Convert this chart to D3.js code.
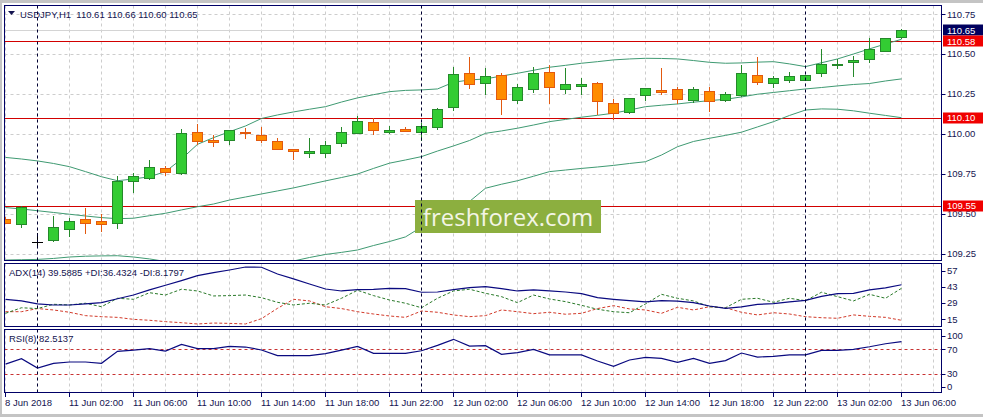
<!DOCTYPE html>
<html><head><meta charset="utf-8">
<script src="https://cdn.jsdelivr.net/npm/d3@7"></script>
<style>
body{margin:0;background:#fff}
svg{display:block}
text{font-family:"Liberation Sans",Arial,sans-serif}
</style>
</head><body>
<svg id="c" width="983" height="417"></svg>
<script>
// ---------- DATA ----------
const barTimes = [
 "8 Jun 22:00","8 Jun 23:00",
 "11 Jun 00:00","11 Jun 01:00","11 Jun 02:00","11 Jun 03:00","11 Jun 04:00","11 Jun 05:00","11 Jun 06:00","11 Jun 07:00",
 "11 Jun 08:00","11 Jun 09:00","11 Jun 10:00","11 Jun 11:00","11 Jun 12:00","11 Jun 13:00","11 Jun 14:00","11 Jun 15:00",
 "11 Jun 16:00","11 Jun 17:00","11 Jun 18:00","11 Jun 19:00","11 Jun 20:00","11 Jun 21:00","11 Jun 22:00","11 Jun 23:00",
 "12 Jun 00:00","12 Jun 01:00","12 Jun 02:00","12 Jun 03:00","12 Jun 04:00","12 Jun 05:00","12 Jun 06:00","12 Jun 07:00",
 "12 Jun 08:00","12 Jun 09:00","12 Jun 10:00","12 Jun 11:00","12 Jun 12:00","12 Jun 13:00","12 Jun 14:00","12 Jun 15:00",
 "12 Jun 16:00","12 Jun 17:00","12 Jun 18:00","12 Jun 19:00","12 Jun 20:00","12 Jun 21:00","12 Jun 22:00","12 Jun 23:00",
 "13 Jun 00:00","13 Jun 01:00","13 Jun 02:00","13 Jun 03:00","13 Jun 04:00","13 Jun 05:00","13 Jun 06:00"
];
const opens  = [109.466,109.434,109.325,109.334,109.403,109.466,109.453,109.444,109.707,109.722,
                109.787,109.754,110.013,109.962,109.960,110.012,109.992,109.954,109.908,109.881,
                109.879,109.942,110.004,110.073,110.011,110.029,110.011,110.042,110.167,110.384,
                110.318,110.368,110.211,110.280,110.387,110.280,110.299,110.318,110.196,110.140,
                110.242,110.278,110.280,110.211,110.269,110.215,110.242,110.368,110.318,110.336,
                110.336,110.380,110.430,110.449,110.468,110.518,110.610];
const highs  = [109.480,109.549,109.382,109.486,109.472,109.534,109.497,109.735,109.754,109.837,
                109.801,110.029,110.063,109.994,110.025,110.039,110.044,109.975,109.908,109.975,
                109.956,110.042,110.113,110.098,110.050,110.042,110.067,110.160,110.420,110.480,
                110.415,110.384,110.311,110.420,110.430,110.412,110.349,110.328,110.217,110.227,
                110.290,110.412,110.293,110.295,110.295,110.261,110.432,110.482,110.362,110.387,
                110.370,110.531,110.468,110.487,110.600,110.600,110.660];
const lows   = [109.440,109.419,109.294,109.330,109.363,109.382,109.394,109.413,109.638,109.720,
                109.743,109.750,109.939,109.927,109.937,109.977,109.952,109.904,109.842,109.858,
                109.858,109.927,110.004,110.000,110.008,110.017,109.962,110.029,110.149,110.290,
                110.249,110.123,110.196,110.263,110.196,110.259,110.249,110.123,110.092,110.130,
                110.213,110.249,110.196,110.200,110.144,110.209,110.238,110.315,110.296,110.328,
                110.335,110.362,110.412,110.362,110.449,110.518,110.600];
const closes = [109.445,109.541,109.325,109.415,109.453,109.445,109.434,109.704,109.735,109.791,
                109.760,110.006,109.954,109.952,110.023,110.004,109.960,109.904,109.892,109.892,
                109.929,110.011,110.080,110.023,110.023,110.020,110.048,110.159,110.378,110.311,
                110.362,110.217,110.293,110.380,110.293,110.311,110.311,110.209,110.130,110.227,
                110.290,110.265,110.217,110.280,110.209,110.251,110.380,110.328,110.349,110.362,
                110.368,110.437,110.437,110.464,110.531,110.600,110.650];
const bbUpper = [109.853,109.843,109.831,109.815,109.795,109.764,109.732,109.707,109.718,109.732,
                 109.764,109.843,109.935,109.977,110.014,110.050,110.097,110.119,110.138,110.155,
                 110.171,110.200,110.226,110.246,110.265,110.273,110.276,110.282,110.324,110.338,
                 110.345,110.363,110.380,110.399,110.418,110.430,110.443,110.453,110.464,110.470,
                 110.474,110.473,110.470,110.460,110.449,110.443,110.445,110.450,110.453,110.439,
                 110.422,110.446,110.470,110.501,110.533,110.564,110.593];
const bbMiddle = [109.539,109.530,109.519,109.508,109.497,109.486,109.476,109.469,109.472,109.488,
                  109.503,109.524,109.544,109.561,109.586,109.605,109.624,109.643,109.662,109.684,
                  109.706,109.727,109.749,109.784,109.817,109.837,109.858,109.893,109.925,109.959,
                  110.004,110.019,110.036,110.056,110.077,110.091,110.105,110.117,110.130,110.150,
                  110.171,110.180,110.188,110.199,110.209,110.217,110.232,110.249,110.260,110.271,
                  110.282,110.291,110.301,110.310,110.316,110.332,110.345];
const bbLower = [109.210,109.212,109.214,109.220,109.229,109.234,109.236,109.237,109.229,109.217,
                 109.201,109.185,109.173,109.167,109.167,109.173,109.179,109.189,109.204,109.226,
                 109.245,109.258,109.273,109.301,109.326,109.355,109.417,109.467,109.524,109.577,
                 109.660,109.685,109.707,109.735,109.764,109.774,109.784,109.793,109.803,109.815,
                 109.826,109.868,109.920,109.953,109.973,109.991,110.011,110.044,110.077,110.116,
                 110.150,110.157,110.155,110.145,110.130,110.116,110.102];
const adxValues = [32.3,30.9,28.3,27.4,27.4,28.3,29.4,32.8,36.0,40.4,
                   44.4,48.4,52.7,55.3,57.6,60.2,60.0,54.2,49.9,45.5,
                   41.2,39.5,40.6,40.8,41.8,41.5,38.4,38.6,40.6,42.4,
                   43.2,41.5,39.5,40.4,39.5,38.6,37.2,33.7,32.3,31.1,
                   30.0,31.1,30.8,29.4,26.5,24.5,25.7,28.0,28.5,30.0,
                   31.4,34.9,37.2,37.5,40.4,42.1,44.9];
const plusDI = [20.2,25.0,24.3,28.0,27.4,28.9,25.9,33.2,32.3,38.0,
                36.0,41.0,39.5,35.2,35.5,36.0,33.7,29.7,27.4,28.9,
                27.4,33.2,40.1,35.5,31.7,28.9,25.0,33.2,39.5,41.0,
                37.5,34.6,29.4,36.0,32.6,30.3,27.1,23.7,21.6,20.7,
                28.3,36.6,33.2,30.9,25.9,25.0,32.3,33.2,29.7,33.2,
                31.1,38.4,34.6,30.9,36.6,33.2,41.8];
const minusDI = [21.6,21.6,24.3,23.1,21.1,18.2,17.3,16.7,15.0,14.2,
                 13.0,12.1,11.0,11.8,11.5,11.0,15.6,24.5,32.3,30.9,
                 25.9,24.3,21.6,19.6,17.9,16.7,22.2,21.1,18.8,17.3,
                 18.2,23.1,21.6,19.9,21.1,19.4,20.2,24.3,26.8,24.0,
                 23.1,20.2,25.4,23.1,25.9,25.0,21.1,18.8,20.7,19.6,
                 17.3,16.4,15.9,18.8,17.6,16.7,14.2];
const rsiValues = [46.0,54.8,39.7,47.3,49.4,49.4,47.3,66.8,68.6,71.0,
                   67.0,78.0,71.0,71.0,74.8,73.7,68.9,59.7,59.7,59.7,
                   62.9,68.6,74.8,63.4,63.4,63.4,67.7,76.3,86.2,75.3,
                   76.0,61.9,64.6,70.0,60.9,60.9,60.9,51.0,42.4,52.7,
                   57.0,55.3,49.0,55.3,47.3,51.6,64.0,57.5,58.6,60.9,
                   60.9,68.3,68.3,70.0,74.2,79.0,82.5];
const priceTicks = [110.75,110.50,110.25,110.00,109.75,109.50,109.25];
const priceTickLabels = ["110.75","110.50","110.25","110.00","109.75","109.50","109.25"];
const levelValues = [110.58,110.10,109.55];
const levelLabels = ["110.58","110.10","109.55"];
const bidValue = 110.65, bidLabel = "110.65";
const adxTicks = [57,43,29,15];
const rsiTicks = [100,70,30,0];
const rsiLevels = [70,30];
const timeTickIdx = [0,4,8,12,16,20,24,28,32,36,40,44,48,52,56];
const timeTickLabels = ["8 Jun 2018","11 Jun 02:00","11 Jun 06:00","11 Jun 10:00","11 Jun 14:00","11 Jun 18:00","11 Jun 22:00",
  "12 Jun 02:00","12 Jun 06:00","12 Jun 10:00","12 Jun 14:00","12 Jun 18:00","12 Jun 22:00","13 Jun 02:00","13 Jun 06:00"];
const separatorIdx = [2,26,50];
const headerText = "USDJPY,H1  110.61 110.66 110.60 110.65";
const adxLegend = "ADX(14) 39.5885 +DI:36.4324 -DI:8.1797";
const rsiLegend = "RSI(8) 82.5137";
const watermark = "freshforex.com";

// ---------- LAYOUT ----------
const svg = d3.select('#c');
const NAVY = "#000066", TXT = "#141450", RED = "#d20000";
const PL = 4.5, PR = 941.5;
const panels = {
  main: {top: 5.5, bottom: 260.5},
  adx:  {top: 263.5, bottom: 326.5},
  rsi:  {top: 329.5, bottom: 392.5}
};
const x = d3.scaleLinear().domain([0, 56]).range([5.5, 901.5]);
const yP = d3.scaleLinear().domain([109.204, 110.808]).range([261, 5]);
const yA = d3.scaleLinear().domain([8.64, 63.4]).range([326.7, 263.3]);
const yR = d3.scaleLinear().domain([0, 100]).range([392.5, 330.8]);
const px = v => Math.round(v) + 0.5;

// window frame
svg.append('rect').attr('x',0).attr('y',0).attr('width',983).attr('height',417).attr('fill','#fff');
svg.append('rect').attr('x',0).attr('y',0).attr('width',983).attr('height',3).attr('fill','#c4c4c4');
svg.append('rect').attr('x',0).attr('y',414).attr('width',983).attr('height',3).attr('fill','#c4c4c4');
svg.append('rect').attr('x',0).attr('y',0).attr('width',2).attr('height',417).attr('fill','#c4c4c4');

// clip paths
const defs = svg.append('defs');
Object.entries(panels).forEach(([k,p]) => {
  defs.append('clipPath').attr('id','clip-'+k).append('rect')
    .attr('x',PL+0.5).attr('y',p.top+0.5).attr('width',PR-PL-1).attr('height',p.bottom-p.top-1);
});

// vertical grid in all panels
const gridIdx = d3.range(0, 59, 2);
Object.entries(panels).forEach(([k,p]) => {
  const g = svg.append('g').attr('clip-path','url(#clip-'+k+')');
  g.selectAll('line').data(gridIdx).join('line')
    .attr('x1',d=>x(d)).attr('x2',d=>x(d)).attr('y1',p.top).attr('y2',p.bottom)
    .attr('stroke','#cdcdcd').attr('stroke-dasharray','3,3');
});

// main horizontal grid
const mainG = svg.append('g').attr('clip-path','url(#clip-main)');
mainG.selectAll('line.hg').data(priceTicks).join('line').attr('class','hg')
  .attr('x1',PL).attr('x2',PR).attr('y1',d=>px(yP(d))).attr('y2',d=>px(yP(d)))
  .attr('stroke','#cdcdcd').attr('stroke-dasharray','3,3');

// bid line
mainG.append('line').attr('x1',PL).attr('x2',PR).attr('y1',px(yP(bidValue))).attr('y2',px(yP(bidValue)))
  .attr('stroke','#d4d4d4');

// level lines
mainG.selectAll('line.lv').data(levelValues).join('line').attr('class','lv')
  .attr('x1',PL).attr('x2',PR).attr('y1',d=>px(yP(d))).attr('y2',d=>px(yP(d)))
  .attr('stroke',RED).attr('stroke-width',1);

// bollinger bands
const bbLine = arr => d3.line().x((d,i)=>x(i)).y(d=>yP(d))(arr);
[bbUpper, bbMiddle, bbLower].forEach(arr => {
  mainG.append('path').attr('d', bbLine(arr)).attr('fill','none').attr('stroke','#3f9a72').attr('stroke-width',1);
});

// watermark
svg.append('rect').attr('x',415).attr('y',200).attr('width',186).attr('height',33).attr('fill','#8caf3f');
svg.append('text').attr('x',508).attr('y',226).attr('text-anchor','middle')
  .style('font-family','"Open Sans",sans-serif').style('font-size','24px').attr('fill','#f3f5e6')
  .text(watermark);

// candles
const candles = d3.range(opens.length).map(i => ({i, o:opens[i], h:highs[i], l:lows[i], c:closes[i]}));
const cg = mainG.append('g');
candles.forEach(d => {
  const bull = d.c > d.o, bear = d.c < d.o;
  const stroke = bull ? '#24892a' : (bear ? '#e2590f' : '#000000');
  const fill = bull ? '#33cc33' : '#ff8c00';
  const xc = x(d.i);
  cg.append('line').attr('x1',xc).attr('x2',xc).attr('y1',Math.round(yP(d.h))).attr('y2',Math.round(yP(d.l))+1)
    .attr('stroke',stroke);
  const top = Math.round(yP(Math.max(d.o,d.c))), bot = Math.round(yP(Math.min(d.o,d.c)));
  if (bot - top < 1) {
    cg.append('line').attr('x1',xc-5.5).attr('x2',xc+5.5).attr('y1',top+0.5).attr('y2',top+0.5).attr('stroke',stroke);
  } else {
    cg.append('rect').attr('x',xc-5).attr('y',top+0.5).attr('width',10).attr('height',bot-top)
      .attr('fill',fill).attr('stroke',stroke);
  }
});

// ADX panel
const adxG = svg.append('g').attr('clip-path','url(#clip-adx)');
const lineA = d3.line().x((d,i)=>x(i)).y(d=>yA(d));
adxG.append('path').attr('d',lineA(minusDI)).attr('fill','none').attr('stroke','#d23a2a').attr('stroke-dasharray','3,2');
adxG.append('path').attr('d',lineA(plusDI)).attr('fill','none').attr('stroke','#2a7a2a').attr('stroke-dasharray','3,2');
adxG.append('path').attr('d',lineA(adxValues)).attr('fill','none').attr('stroke','#0a0a80').attr('stroke-width',1.2);

// RSI panel
const rsiG = svg.append('g').attr('clip-path','url(#clip-rsi)');
rsiG.selectAll('line.lv').data(rsiLevels).join('line').attr('class','lv')
  .attr('x1',PL).attr('x2',PR).attr('y1',d=>px(yR(d))).attr('y2',d=>px(yR(d)))
  .attr('stroke','#c83232').attr('stroke-dasharray','3,3');
rsiG.append('path').attr('d',d3.line().x((d,i)=>x(i)).y(d=>yR(d))(rsiValues))
  .attr('fill','none').attr('stroke','#0a0a80').attr('stroke-width',1.2);

// period separators
Object.values(panels).forEach(p => {
  svg.selectAll(null).data(separatorIdx).join('line')
    .attr('x1',d=>x(d)).attr('x2',d=>x(d)).attr('y1',p.top).attr('y2',p.bottom)
    .attr('stroke','#000033').attr('stroke-dasharray','3,3');
});

// panel frames
Object.values(panels).forEach(p => {
  svg.append('rect').attr('x',PL).attr('y',p.top).attr('width',PR-PL).attr('height',p.bottom-p.top)
    .attr('fill','none').attr('stroke',NAVY);
});

// right axes
const fs = '9.5px';
const axisTicks = (vals, labels, scale, p) => {
  vals.forEach((v,k) => {
    const yy = scale(v);
    const ly = Math.max(p.top+6, Math.min(p.bottom-6, yy));
    svg.append('line').attr('x1',PR).attr('x2',PR+4).attr('y1',px(ly)).attr('y2',px(ly)).attr('stroke',NAVY);
    svg.append('text').attr('x',947).attr('y',ly).attr('dy','0.35em').style('font-size',fs)
      .attr('fill',TXT).text(labels[k]);
  });
};
axisTicks(priceTicks, priceTickLabels, yP, panels.main);
axisTicks(adxTicks, adxTicks.map(String), d3.scaleLinear().domain([57,15]).range([270.7,319.3]), panels.adx);
axisTicks(rsiTicks, rsiTicks.map(String), yR, panels.rsi);

// price tags
const tag = (v, label, bg) => {
  const yy = yP(v);
  svg.append('rect').attr('x',943).attr('y',Math.round(yy)-5.5).attr('width',40).attr('height',11).attr('fill',bg);
  svg.append('text').attr('x',947).attr('y',yy).attr('dy','0.36em').style('font-size',fs)
    .attr('fill','#fff').text(label);
};
tag(bidValue, bidLabel, '#00005e');
levelValues.forEach((v,k) => tag(v, levelLabels[k], '#f00000'));

// time axis
timeTickIdx.forEach((idx,k) => {
  const xx = k === 0 ? 5 : x(idx);
  svg.append('line').attr('x1',x(idx)).attr('x2',x(idx)).attr('y1',393).attr('y2',397).attr('stroke',NAVY);
  svg.append('text').attr('x',xx - (k===0?0:0.5)).attr('y',405.5).style('font-size',fs).attr('fill',TXT)
    .text(timeTickLabels[k]);
});

// legends / header
svg.append('path').attr('d','M8,11 L15,11 L11.5,15 Z').attr('fill',TXT);
svg.append('text').attr('x',20).attr('y',17.5).style('font-size',fs).attr('fill',TXT)
  .attr('xml:space','preserve').style('white-space','pre').text(headerText);
svg.append('text').attr('x',9).attr('y',275.5).style('font-size',fs).attr('fill',TXT).text(adxLegend);
svg.append('text').attr('x',9).attr('y',341.5).style('font-size',fs).attr('fill',TXT).text(rsiLegend);
</script>
</body></html>
